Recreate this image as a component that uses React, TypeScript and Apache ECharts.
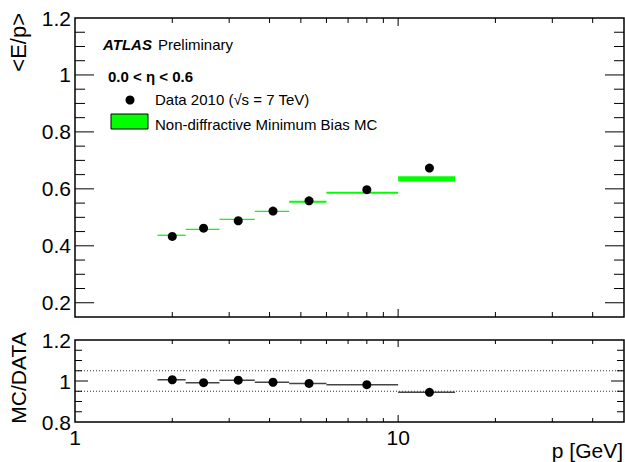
import { useEffect, useRef } from "react";
import * as echarts from "echarts";

// ---- data ----
const binEdges = [1.8, 2.2, 2.8, 3.6, 4.6, 6.0, 10, 15];
const pCenters = [2.0, 2.5, 3.2, 4.1, 5.3, 8.0, 12.5];
const dataEp = [0.433, 0.462, 0.488, 0.522, 0.558, 0.597, 0.673];
const mcEp = [0.437, 0.458, 0.493, 0.521, 0.555, 0.586, 0.635];
const mcErr = [0.002, 0.002, 0.002, 0.002, 0.0035, 0.0035, 0.009];
const ratio = [1.006, 0.992, 1.004, 0.994, 0.988, 0.982, 0.945];
const ratioErr = [0.003, 0.003, 0.003, 0.003, 0.003, 0.004, 0.012];
const refLines = [1.05, 0.95];

// ---- tick values ----
const xLabelValues = [1, 10];
const xMajorTicks = [10];
const xMinorTicks = [2, 3, 4, 5, 6, 7, 8, 9, 20, 30, 40];
const mainYMajor = [0.2, 0.4, 0.6, 0.8, 1.0];
const mainYMinor = [0.25, 0.3, 0.35, 0.45, 0.5, 0.55, 0.65, 0.7, 0.75, 0.85, 0.9, 0.95, 1.05, 1.1, 1.15];
const ratioYMajor = [1.0];
const ratioYMinor = [0.85, 0.9, 0.95, 1.05, 1.1, 1.15];

const X_MIN = 1;
const X_MAX = 50;
const FONT = "Liberation Sans, Arial, Helvetica, sans-serif";

type Lens = { xMaj: number; xMin: number; yMaj: number; yMin: number };

function tickRenderer(
  yMaj: number[],
  yMin: number[],
  yRange: [number, number],
  lens: Lens
) {
  return (_params: any, api: any) => {
    const children: any[] = [];
    const seg = (ax: number, ay: number, bx: number, by: number) =>
      children.push({
        type: "line",
        shape: { x1: ax, y1: ay, x2: bx, y2: by },
        style: { stroke: "#000", lineWidth: 1 },
      });
    const xt = (vals: number[], len: number) => {
      vals.forEach((x) => {
        const b = api.coord([x, yRange[0]]);
        const t = api.coord([x, yRange[1]]);
        seg(b[0], b[1], b[0], b[1] - len);
        seg(t[0], t[1], t[0], t[1] + len);
      });
    };
    const yt = (vals: number[], len: number) => {
      vals.forEach((y) => {
        const l = api.coord([X_MIN, y]);
        const r = api.coord([X_MAX, y]);
        seg(l[0], l[1], l[0] + len, l[1]);
        seg(r[0], r[1], r[0] - len, r[1]);
      });
    };
    xt(xMajorTicks, lens.xMaj);
    xt(xMinorTicks, lens.xMin);
    yt(yMaj, lens.yMaj);
    yt(yMin, lens.yMin);
    return { type: "group", children };
  };
}

const isMult = (v: number, s: number) => Math.abs(v / s - Math.round(v / s)) < 1e-6;
const yLabelFmt = (v: number) => (isMult(v, 0.2) ? String(+v.toFixed(1)) : "");
const xLabelFmt = (v: number) =>
  xLabelValues.some((t) => Math.abs(t - v) < 1e-6) ? String(Math.round(v)) : "";

export default function App() {
  const ref = useRef<HTMLDivElement>(null);
  useEffect(() => {
    if (!ref.current) return;
    const chart = echarts.init(ref.current, undefined, { renderer: "svg" });

    const mcData = mcEp.map((v, i) => [binEdges[i], binEdges[i + 1], v, mcErr[i]]);
    const ratioBars = ratio.map((v, i) => [binEdges[i], binEdges[i + 1], v, ratioErr[i], pCenters[i]]);

    const option: any = {
      animation: false,
      grid: [
        { left: 75, top: 18, right: 1, height: 299, show: true, borderColor: "#000", borderWidth: 1.5, outerBoundsMode: "none", containLabel: false },
        { left: 75, top: 340, right: 1, height: 82, show: true, borderColor: "#000", borderWidth: 1.5, outerBoundsMode: "none", containLabel: false },
      ],
      xAxis: [
        {
          type: "log", logBase: 10, gridIndex: 0, min: X_MIN, max: X_MAX,
          axisLine: { show: false }, axisTick: { show: false }, axisLabel: { show: false },
          splitLine: { show: false },
        },
        {
          type: "log", logBase: 10, gridIndex: 1, min: X_MIN, max: X_MAX,
          axisLine: { show: false }, axisTick: { show: false },
          axisLabel: {
            show: true, fontSize: 21, fontFamily: FONT, color: "#000", margin: 5,
            showMaxLabel: false, formatter: xLabelFmt,
          },
          splitLine: { show: false },
        },
      ],
      yAxis: [
        {
          type: "value", gridIndex: 0, min: 0.15, max: 1.2, interval: 0.05,
          axisLine: { show: false }, axisTick: { show: false }, splitLine: { show: false },
          axisLabel: { fontSize: 21, fontFamily: FONT, color: "#000", margin: 4, formatter: yLabelFmt },
        },
        {
          type: "value", gridIndex: 1, min: 0.8, max: 1.2, interval: 0.05,
          axisLine: { show: false }, axisTick: { show: false }, splitLine: { show: false },
          axisLabel: { fontSize: 21, fontFamily: FONT, color: "#000", margin: 4, formatter: yLabelFmt },
        },
      ],
      series: [
        {
          type: "custom", xAxisIndex: 0, yAxisIndex: 0, silent: true, z: 5,
          data: [[1, 0.5]], encode: { x: 0, y: 1 },
          renderItem: tickRenderer(mainYMajor, mainYMinor, [0.15, 1.2], { xMaj: 8, xMin: 5, yMaj: 19, yMin: 10 }),
        },
        {
          type: "custom", xAxisIndex: 0, yAxisIndex: 0, silent: true, z: 2,
          data: mcData, encode: { x: [0, 1], y: 2 },
          renderItem: (_p: any, api: any) => {
            const lo = api.value(0), hi = api.value(1), v = api.value(2), e = api.value(3);
            const a = api.coord([lo, v + e]);
            const b = api.coord([hi, v - e]);
            const h = Math.max(b[1] - a[1], 1.3);
            return {
              type: "rect",
              shape: { x: a[0], y: (a[1] + b[1]) / 2 - h / 2, width: b[0] - a[0], height: h },
              style: { fill: "#00ff00" },
            };
          },
        },
        {
          type: "scatter", xAxisIndex: 0, yAxisIndex: 0, z: 3,
          symbol: "circle", symbolSize: 9,
          itemStyle: { color: "#000", opacity: 1 },
          data: pCenters.map((p, i) => [p, dataEp[i]]),
        },
        {
          type: "custom", xAxisIndex: 1, yAxisIndex: 1, silent: true, z: 5,
          data: [[1, 1]], encode: { x: 0, y: 1 },
          renderItem: tickRenderer(ratioYMajor, ratioYMinor, [0.8, 1.2], { xMaj: 7, xMin: 4, yMaj: 13, yMin: 7 }),
        },
        {
          type: "custom", xAxisIndex: 1, yAxisIndex: 1, silent: true, z: 1,
          data: refLines.map((v) => [X_MIN, v]), encode: { x: 0, y: 1 },
          renderItem: (_p: any, api: any) => {
            const v = api.value(1);
            const a = api.coord([X_MIN, v]);
            const b = api.coord([X_MAX, v]);
            return {
              type: "line",
              shape: { x1: a[0], y1: a[1], x2: b[0], y2: b[1] },
              style: { stroke: "#333", lineWidth: 1, lineDash: [1, 2] },
            };
          },
        },
        {
          type: "custom", xAxisIndex: 1, yAxisIndex: 1, silent: true, z: 2,
          data: ratioBars, encode: { x: [0, 1], y: 2 },
          renderItem: (_p: any, api: any) => {
            const lo = api.value(0), hi = api.value(1), v = api.value(2), e = api.value(3), c = api.value(4);
            const a = api.coord([lo, v]);
            const b = api.coord([hi, v]);
            const t = api.coord([c, v + e]);
            const d = api.coord([c, v - e]);
            return {
              type: "group",
              children: [
                { type: "line", shape: { x1: a[0], y1: a[1], x2: b[0], y2: b[1] }, style: { stroke: "#444", lineWidth: 1.5 } },
                { type: "line", shape: { x1: t[0], y1: t[1], x2: d[0], y2: d[1] }, style: { stroke: "#444", lineWidth: 1.5 } },
              ],
            };
          },
        },
        {
          type: "scatter", xAxisIndex: 1, yAxisIndex: 1, z: 3,
          symbol: "circle", symbolSize: 9,
          itemStyle: { color: "#000", opacity: 1 },
          data: pCenters.map((p, i) => [p, ratio[i]]),
        },
      ],
      graphic: [
        {
          type: "text", x: 18, y: 13, rotation: Math.PI / 2,
          style: { text: "<E/p>", fontSize: 22, fontFamily: FONT, fill: "#000", textAlign: "right", textVerticalAlign: "middle" },
        },
        {
          type: "text", x: 18, y: 378, rotation: Math.PI / 2,
          style: { text: "MC/DATA", fontSize: 21, fontFamily: FONT, fill: "#000", textAlign: "center", textVerticalAlign: "middle" },
        },
        {
          type: "text", x: 623, y: 450,
          style: { text: "p [GeV]", fontSize: 21, fontFamily: FONT, fill: "#000", textAlign: "right", textVerticalAlign: "middle" },
        },
        {
          type: "text", x: 103, y: 44.5,
          style: { text: "ATLAS", fontSize: 15, fontWeight: "bold", fontStyle: "italic", fontFamily: FONT, fill: "#000", textAlign: "left", textVerticalAlign: "middle" },
        },
        {
          type: "text", x: 158, y: 44.5,
          style: { text: "Preliminary", fontSize: 15, fontFamily: FONT, fill: "#000", textAlign: "left", textVerticalAlign: "middle" },
        },
        {
          type: "text", x: 108, y: 76.5,
          style: { text: "0.0 < η < 0.6", fontSize: 15, fontWeight: "bold", fontFamily: FONT, fill: "#000", textAlign: "left", textVerticalAlign: "middle" },
        },
        {
          type: "circle", shape: { cx: 130, cy: 100, r: 4.5 }, style: { fill: "#000" },
        },
        {
          type: "text", x: 155, y: 99,
          style: { text: "Data 2010 (√s = 7 TeV)", fontSize: 15, fontFamily: FONT, fill: "#000", textAlign: "left", textVerticalAlign: "middle" },
        },
        {
          type: "rect", shape: { x: 111, y: 114, width: 37, height: 15 },
          style: { fill: "#00ff00", stroke: "#000", lineWidth: 1 },
        },
        {
          type: "text", x: 155, y: 124,
          style: { text: "Non-diffractive Minimum Bias MC", fontSize: 15, fontFamily: FONT, fill: "#000", textAlign: "left", textVerticalAlign: "middle" },
        },
      ],
    };
    chart.setOption(option);
    return () => chart.dispose();
  }, []);
  return (
    <div
      ref={ref}
      style={{ position: "fixed", left: 0, top: 0, width: 625, height: 462, background: "#fff" }}
    />
  );
}
